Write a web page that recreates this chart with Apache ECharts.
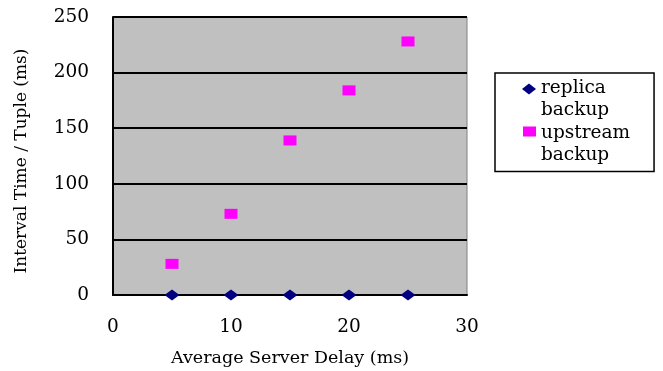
<!DOCTYPE html>
<html>
<head>
<meta charset="utf-8">
<script src="https://cdn.jsdelivr.net/npm/echarts@6/dist/echarts.min.js"></script>
<style>
  html, body { margin: 0; padding: 0; background: #fff; }
  #chart { width: 663px; height: 371px; }
</style>
</head>
<body>
<div id="chart"></div>
<script>
// server delay (ms) on x, interval time per tuple (ms) on y
const delays = [5, 10, 15, 20, 25];
const replicaBackup = [0, 0, 0, 0, 0];
const upstreamBackup = [28, 73, 139, 184, 228];

const serif = "'DejaVu Serif', 'Liberation Serif', serif";

// legend icons sit on the first text line, so pad the path to the full item height
const diamondIcon = "path://M0 0 M7 5 L14 10.5 L7 16 L0 10.5 Z M14 42";
const squareIcon = "path://M0 0 M1 3 L14 3 L14 13 L1 13 Z M14 42";

const chart = echarts.init(document.getElementById("chart"));

chart.setOption({
    animation: false,
    grid: {
        left: 113,
        right: 196,
        top: 17,
        bottom: 76,
        outerBoundsMode: "none",
        show: true,
        backgroundColor: "#c0c0c0",
        borderColor: "#808080",
        borderWidth: 1,
    },
    legend: {
        orient: "vertical",
        left: 495,
        top: 73,
        padding: [4.5, 24, 5, 27],
        borderColor: "#000",
        borderWidth: 1.5,
        borderRadius: 0,
        itemWidth: 14,
        itemHeight: 42,
        itemGap: 1,
        itemTextGap: 9,
        data: [
            { name: "replica backup", icon: diamondIcon, itemStyle: { color: "#000080", opacity: 1 } },
            { name: "upstream backup", icon: squareIcon, itemStyle: { color: "#ff00ff", opacity: 1 } },
        ],
        formatter: (name) => name.replace(" ", "\n"),
        textStyle: {
            fontFamily: serif,
            fontSize: 18.5,
            color: "#000",
            lineHeight: 22,
        },
    },
    xAxis: {
        type: "value",
        min: 0,
        max: 30,
        interval: 10,
        name: "Average Server Delay (ms)",
        nameLocation: "middle",
        nameGap: 54,
        nameTextStyle: { fontFamily: serif, fontSize: 17.5, color: "#000" },
        axisLine: { lineStyle: { color: "#000", width: 2 } },
        axisTick: { show: false },
        axisLabel: { fontFamily: serif, fontSize: 18.5, color: "#000", margin: 23 },
        splitLine: { show: false },
    },
    yAxis: {
        type: "value",
        min: 0,
        max: 250,
        interval: 50,
        name: "Interval Time / Tuple (ms)",
        nameLocation: "middle",
        nameGap: 83,
        nameTextStyle: { fontFamily: serif, fontSize: 17, color: "#000", padding: [0, 10, 0, 0] },
        axisLine: { show: true, lineStyle: { color: "#000", width: 2 } },
        axisTick: { show: false },
        axisLabel: { fontFamily: serif, fontSize: 18.5, color: "#000", margin: 24 },
        splitLine: { lineStyle: { color: "#000", width: 2 } },
    },
    series: [
        {
            name: "replica backup",
            type: "scatter",
            symbol: "diamond",
            symbolSize: [15, 11],
            itemStyle: { color: "#000080", opacity: 1 },
            data: delays.map((d, i) => [d, replicaBackup[i]]),
            z: 3,
        },
        {
            name: "upstream backup",
            type: "scatter",
            symbol: "rect",
            symbolSize: [13, 10],
            itemStyle: { color: "#ff00ff", opacity: 1 },
            data: delays.map((d, i) => [d, upstreamBackup[i]]),
            z: 3,
        },
    ],
});
</script>
</body>
</html>
